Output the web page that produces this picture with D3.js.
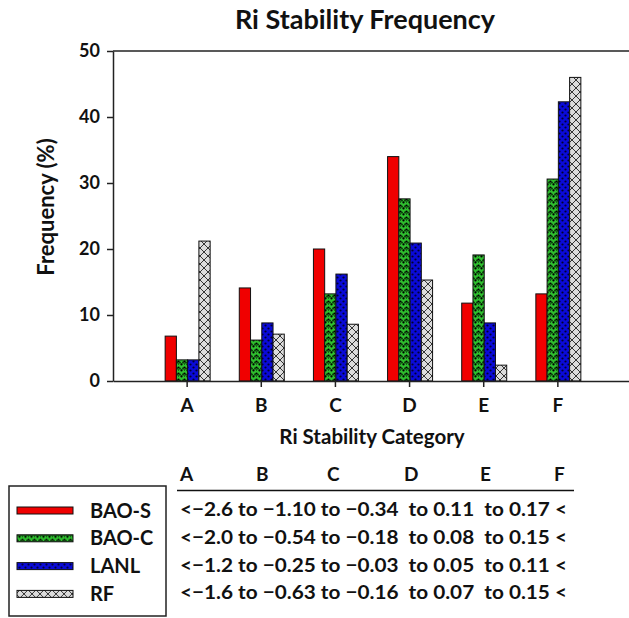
<!DOCTYPE html>
<html>
<head>
<meta charset="utf-8">
<script src="https://cdn.jsdelivr.net/npm/d3@7"></script>
<style>
    body { margin: 0; background: #fff; }
    svg text { font-family: Lato, "Open Sans", sans-serif; fill: #111; font-weight: 700; }
</style>
</head>
<body>
<svg id="chart" width="629" height="618"></svg>
<script>
const categories = ["A", "B", "C", "D", "E", "F"];
const seriesNames = ["BAO-S", "BAO-C", "LANL", "RF"];
const baoS = [6.8, 14.1, 20.0, 34.0, 11.8, 13.2];
const baoC = [3.2, 6.2, 13.2, 27.6, 19.1, 30.6];
const lanl = [3.2, 8.8, 16.2, 20.9, 8.8, 42.3];
const rf   = [21.2, 7.1, 8.6, 15.3, 2.4, 46.0];
const yTicks = [0, 10, 20, 30, 40, 50];
const tableRows = [
    "<\u22122.6 to \u22121.10 to \u22120.34  to 0.11  to 0.17 <",
    "<\u22122.0 to \u22120.54 to \u22120.18  to 0.08  to 0.15 <",
    "<\u22121.2 to \u22120.25 to \u22120.03  to 0.05  to 0.11 <",
    "<\u22121.6 to \u22120.63 to \u22120.16  to 0.07  to 0.15 <"
];

const seriesValues = [baoS, baoC, lanl, rf];
const fills = ["#f00000", "url(#patGreen)", "url(#patBlue)", "url(#patRF)"];

const margin = {top: 51, left: 113, bottom: 381, right: 632};
const font = "Lato, 'Open Sans', sans-serif";

let svg = d3.select("#chart");

// patterns
let defs = svg.append("defs");

let pg = defs.append("pattern").attr("id", "patGreen")
    .attr("patternUnits", "userSpaceOnUse").attr("width", 6).attr("height", 6);
pg.append("rect").attr("width", 6).attr("height", 6).attr("fill", "#2fc02f");
pg.append("path").attr("d", "M0,1.5 L1.5,4.5 L3,1.5 L4.5,4.5 L6,1.5")
    .attr("fill", "none").attr("stroke", "#0a3a0a").attr("stroke-width", 0.9);
pg.append("circle").attr("cx", 1.5).attr("cy", 4.5).attr("r", 1.1).attr("fill", "#000");
pg.append("circle").attr("cx", 4.5).attr("cy", 1.5).attr("r", 1.1).attr("fill", "#000");

let pb = defs.append("pattern").attr("id", "patBlue")
    .attr("patternUnits", "userSpaceOnUse").attr("width", 6).attr("height", 6);
pb.append("rect").attr("width", 6).attr("height", 6).attr("fill", "#0a0ad8");
pb.append("circle").attr("cx", 1.5).attr("cy", 1.5).attr("r", 1.1).attr("fill", "#000030");
pb.append("circle").attr("cx", 4.5).attr("cy", 4.5).attr("r", 1.1).attr("fill", "#000030");

let pr = defs.append("pattern").attr("id", "patRF")
    .attr("patternUnits", "userSpaceOnUse").attr("width", 8).attr("height", 8);
pr.append("rect").attr("width", 8).attr("height", 8).attr("fill", "#dcdcdc");
pr.append("path").attr("d", "M0,0 L8,8 M8,0 L0,8")
    .attr("stroke", "#222").attr("stroke-width", 0.9);

// scales
let x = d3.scaleBand()
    .domain(categories)
    .range([margin.left, margin.right])
    .paddingInner(0)
    .paddingOuter(0.5);

let x1 = d3.scaleBand()
    .domain(seriesNames)
    .range([-22, 23]);

let y = d3.scaleLinear()
    .domain([0, 50])
    .range([margin.bottom, margin.top]);

// bars
seriesNames.forEach(function(s, si) {
    svg.append("g")
        .selectAll("rect")
        .data(seriesValues[si])
        .enter()
        .append("rect")
            .attr("x", function(d, i) { return x(categories[i]) + x.bandwidth() / 2 + x1(s); })
            .attr("y", function(d) { return y(d); })
            .attr("width", x1.bandwidth())
            .attr("height", function(d) { return y(0) - y(d); })
            .attr("fill", fills[si])
            .attr("stroke", "#111")
            .attr("stroke-width", 1);
});

// frame top
svg.append("line")
    .attr("x1", margin.left).attr("x2", 629)
    .attr("y1", y(50)).attr("y2", y(50))
    .attr("stroke", "#222").attr("stroke-width", 1.5);

// axes
let xAxis = svg.append("g")
    .attr("transform", "translate(0," + y(0) + ")")
    .call(d3.axisBottom(x).tickSize(6).tickPadding(12).tickSizeOuter(0));
xAxis.select(".domain").attr("stroke", "#222").attr("stroke-width", 1.5);
xAxis.selectAll(".tick line").attr("stroke", "#222").attr("stroke-width", 1.5);
xAxis.selectAll("text")
    .style("font-family", font)
    .style("font-size", "19px")
    .style("font-weight", 700)
    .attr("fill", "#111");

let yAxis = svg.append("g")
    .attr("transform", "translate(" + margin.left + ",0)")
    .call(d3.axisLeft(y).tickValues(yTicks).tickSize(6).tickPadding(7).tickSizeOuter(0));
yAxis.select(".domain").attr("stroke", "#222").attr("stroke-width", 1.5);
yAxis.selectAll(".tick line").attr("stroke", "#222").attr("stroke-width", 1.5);
yAxis.selectAll("text")
    .style("font-family", font)
    .style("font-size", "18px")
    .style("font-weight", 700)
    .attr("fill", "#111");

// titles
svg.append("text")
    .attr("x", 365).attr("y", 29)
    .attr("text-anchor", "middle")
    .style("font-size", "27px")
    .style("font-weight", 700)
    .text("Ri Stability Frequency");

svg.append("text")
    .attr("transform", "translate(54,207) rotate(-90)")
    .attr("text-anchor", "middle")
    .style("font-size", "22px")
    .style("font-weight", 700)
    .text("Frequency (%)");

svg.append("text")
    .attr("x", 372).attr("y", 444)
    .attr("text-anchor", "middle")
    .style("font-size", "20.5px")
    .style("font-weight", 700)
    .text("Ri Stability Category");

// legend
svg.append("rect")
    .attr("x", 9).attr("y", 486)
    .attr("width", 157).attr("height", 130)
    .attr("fill", "none")
    .attr("stroke", "#222").attr("stroke-width", 1.5);

let legendRows = svg.append("g")
    .selectAll("g")
    .data(seriesNames)
    .enter()
    .append("g")
        .attr("transform", function(d, i) { return "translate(0," + (510.5 + i * 27.8) + ")"; });

legendRows.append("rect")
    .attr("x", 17).attr("y", -3.5)
    .attr("width", 56).attr("height", 7)
    .attr("fill", function(d, i) { return fills[i]; })
    .attr("stroke", "#111").attr("stroke-width", 1);

legendRows.append("text")
    .attr("x", 90).attr("y", 7)
    .style("font-size", "20px")
    .text(function(d) { return d; });

// range table
const headerX = [180, 256, 327, 404, 480, 554];
svg.append("g")
    .selectAll("text")
    .data(categories)
    .enter()
    .append("text")
        .attr("x", function(d, i) { return headerX[i]; })
        .attr("y", 481)
        .style("font-size", "19px")
        .text(function(d) { return d; });

svg.append("line")
    .attr("x1", 177).attr("x2", 574)
    .attr("y1", 490.5).attr("y2", 490.5)
    .attr("stroke", "#111").attr("stroke-width", 1.5);

svg.append("g")
    .selectAll("text")
    .data(tableRows)
    .enter()
    .append("text")
        .attr("x", 180)
        .attr("y", function(d, i) { return 516 + i * 27.8; })
        .attr("xml:space", "preserve")
        .attr("textLength", 387)
        .attr("lengthAdjust", "spacingAndGlyphs")
        .style("white-space", "pre")
        .style("font-size", "19px")
        .text(function(d) { return d; });
</script>
</body>
</html>
